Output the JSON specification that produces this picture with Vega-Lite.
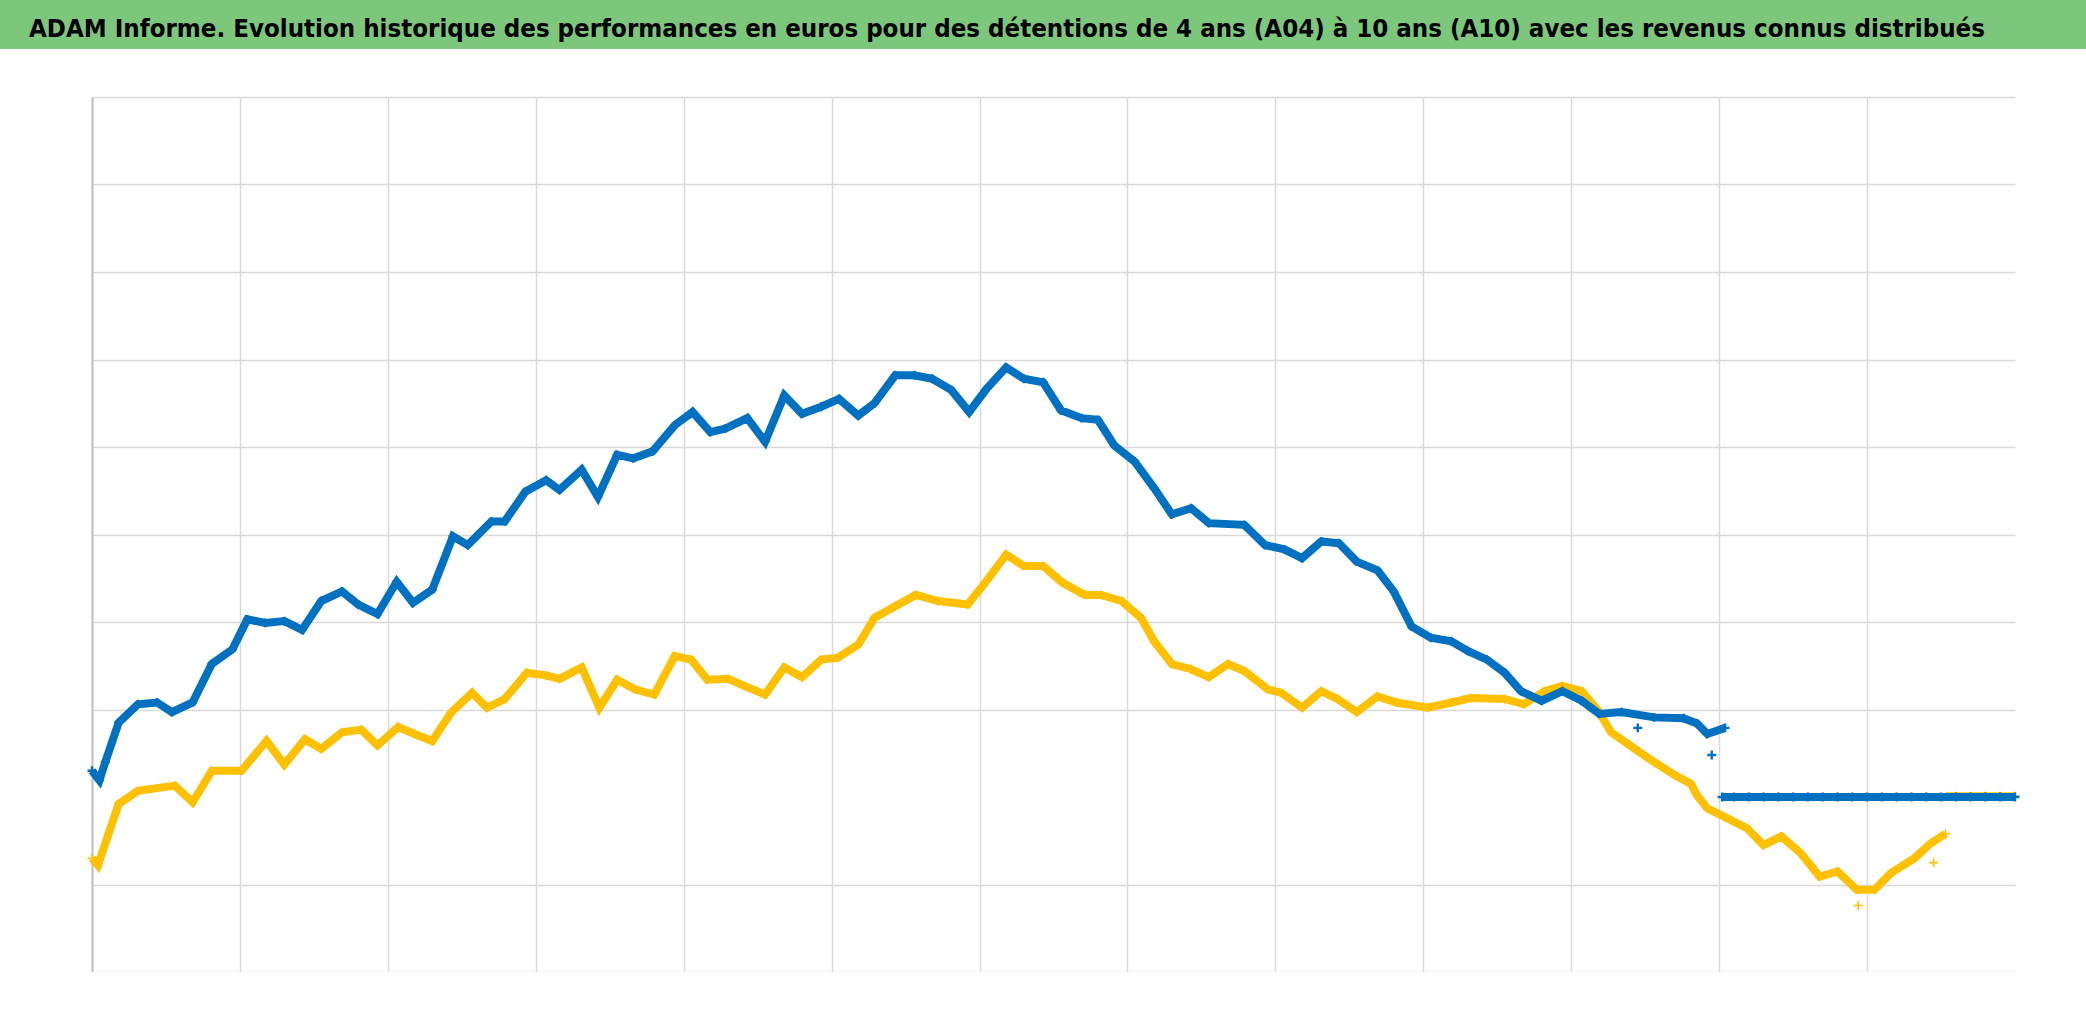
{
  "$schema": "https://vega.github.io/schema/vega-lite/v6.json",
  "padding": 0,
  "spacing": 48,
  "bounds": "flush",
  "background": "white",
  "config": {"view": {"stroke": null}},
  "datasets": {
    "bleu": [
      {"t":0.00,"v":-20,"g":"main"},{"t":0.05,"v":-31,"g":"main"},{"t":0.09,"v":-10,"g":"main"},{"t":0.18,"v":35,"g":"main"},{"t":0.31,"v":56,"g":"main"},{"t":0.44,"v":58,"g":"main"},{"t":0.54,"v":47,"g":"main"},{"t":0.68,"v":58,"g":"main"},{"t":0.81,"v":102,"g":"main"},{"t":0.95,"v":119,"g":"main"},{"t":1.05,"v":153,"g":"main"},{"t":1.17,"v":149,"g":"main"},{"t":1.30,"v":151,"g":"main"},{"t":1.42,"v":141,"g":"main"},{"t":1.55,"v":174,"g":"main"},{"t":1.69,"v":185,"g":"main"},{"t":1.80,"v":170,"g":"main"},{"t":1.93,"v":159,"g":"main"},{"t":2.06,"v":196,"g":"main"},{"t":2.17,"v":172,"g":"main"},{"t":2.30,"v":187,"g":"main"},{"t":2.44,"v":248,"g":"main"},{"t":2.54,"v":238,"g":"main"},{"t":2.70,"v":265,"g":"main"},{"t":2.79,"v":265,"g":"main"},{"t":2.93,"v":299,"g":"main"},{"t":3.07,"v":312,"g":"main"},{"t":3.16,"v":301,"g":"main"},{"t":3.31,"v":324,"g":"main"},{"t":3.42,"v":293,"g":"main"},{"t":3.55,"v":341,"g":"main"},{"t":3.66,"v":337,"g":"main"},{"t":3.79,"v":345,"g":"main"},{"t":3.94,"v":375,"g":"main"},{"t":4.06,"v":390,"g":"main"},{"t":4.18,"v":367,"g":"main"},{"t":4.28,"v":371,"g":"main"},{"t":4.43,"v":383,"g":"main"},{"t":4.55,"v":356,"g":"main"},{"t":4.68,"v":409,"g":"main"},{"t":4.80,"v":388,"g":"main"},{"t":4.93,"v":396,"g":"main"},{"t":5.05,"v":405,"g":"main"},{"t":5.18,"v":386,"g":"main"},{"t":5.29,"v":400,"g":"main"},{"t":5.43,"v":432,"g":"main"},{"t":5.56,"v":432,"g":"main"},{"t":5.68,"v":428,"g":"main"},{"t":5.81,"v":415,"g":"main"},{"t":5.93,"v":390,"g":"main"},{"t":6.05,"v":417,"g":"main"},{"t":6.18,"v":441,"g":"main"},{"t":6.30,"v":428,"g":"main"},{"t":6.43,"v":424,"g":"main"},{"t":6.55,"v":392,"g":"main"},{"t":6.69,"v":383,"g":"main"},{"t":6.80,"v":381,"g":"main"},{"t":6.91,"v":352,"g":"main"},{"t":7.05,"v":333,"g":"main"},{"t":7.18,"v":303,"g":"main"},{"t":7.30,"v":273,"g":"main"},{"t":7.43,"v":280,"g":"main"},{"t":7.55,"v":263,"g":"main"},{"t":7.79,"v":261,"g":"main"},{"t":7.93,"v":238,"g":"main"},{"t":8.06,"v":233,"g":"main"},{"t":8.18,"v":223,"g":"main"},{"t":8.31,"v":242,"g":"main"},{"t":8.43,"v":240,"g":"main"},{"t":8.55,"v":219,"g":"main"},{"t":8.69,"v":209,"g":"main"},{"t":8.80,"v":185,"g":"main"},{"t":8.92,"v":145,"g":"main"},{"t":9.05,"v":132,"g":"main"},{"t":9.19,"v":128,"g":"main"},{"t":9.30,"v":117,"g":"main"},{"t":9.43,"v":107,"g":"main"},{"t":9.55,"v":92,"g":"main"},{"t":9.66,"v":71,"g":"main"},{"t":9.80,"v":60,"g":"main"},{"t":9.94,"v":71,"g":"main"},{"t":10.07,"v":60,"g":"main"},{"t":10.19,"v":45,"g":"main"},{"t":10.34,"v":47,"g":"main"},{"t":10.56,"v":41,"g":"main"},{"t":10.76,"v":40,"g":"main"},{"t":10.85,"v":34,"g":"main"},{"t":10.92,"v":22,"g":"main"},{"t":11.04,"v":29,"g":"main"},
      {"t":10.45,"v":29,"g":"out"},{"t":10.95,"v":-2,"g":"out"},
      {"t":11.02,"v":-50,"g":"flat"},{"t":11.1,"v":-50,"g":"flat"},{"t":11.2,"v":-50,"g":"flat"},{"t":11.3,"v":-50,"g":"flat"},{"t":11.4,"v":-50,"g":"flat"},{"t":11.5,"v":-50,"g":"flat"},{"t":11.6,"v":-50,"g":"flat"},{"t":11.7,"v":-50,"g":"flat"},{"t":11.8,"v":-50,"g":"flat"},{"t":11.9,"v":-50,"g":"flat"},{"t":12.0,"v":-50,"g":"flat"},{"t":12.1,"v":-50,"g":"flat"},{"t":12.2,"v":-50,"g":"flat"},{"t":12.3,"v":-50,"g":"flat"},{"t":12.4,"v":-50,"g":"flat"},{"t":12.5,"v":-50,"g":"flat"},{"t":12.6,"v":-50,"g":"flat"},{"t":12.7,"v":-50,"g":"flat"},{"t":12.8,"v":-50,"g":"flat"},{"t":12.9,"v":-50,"g":"flat"},{"t":13.0,"v":-50,"g":"flat"}
    ],
    "jaune": [
      {"t":0.00,"v":-120,"g":"main"},{"t":0.04,"v":-128,"g":"main"},{"t":0.18,"v":-58,"g":"main"},{"t":0.31,"v":-43,"g":"main"},{"t":0.56,"v":-37,"g":"main"},{"t":0.68,"v":-56,"g":"main"},{"t":0.81,"v":-20,"g":"main"},{"t":1.01,"v":-20,"g":"main"},{"t":1.18,"v":14,"g":"main"},{"t":1.30,"v":-13,"g":"main"},{"t":1.44,"v":16,"g":"main"},{"t":1.55,"v":5,"g":"main"},{"t":1.69,"v":24,"g":"main"},{"t":1.82,"v":27,"g":"main"},{"t":1.93,"v":9,"g":"main"},{"t":2.07,"v":30,"g":"main"},{"t":2.18,"v":22,"g":"main"},{"t":2.30,"v":14,"g":"main"},{"t":2.43,"v":47,"g":"main"},{"t":2.57,"v":69,"g":"main"},{"t":2.67,"v":52,"g":"main"},{"t":2.79,"v":62,"g":"main"},{"t":2.94,"v":92,"g":"main"},{"t":3.07,"v":89,"g":"main"},{"t":3.16,"v":85,"g":"main"},{"t":3.31,"v":98,"g":"main"},{"t":3.43,"v":52,"g":"main"},{"t":3.55,"v":84,"g":"main"},{"t":3.67,"v":73,"g":"main"},{"t":3.80,"v":67,"g":"main"},{"t":3.94,"v":111,"g":"main"},{"t":4.05,"v":107,"g":"main"},{"t":4.16,"v":84,"g":"main"},{"t":4.30,"v":85,"g":"main"},{"t":4.41,"v":77,"g":"main"},{"t":4.55,"v":67,"g":"main"},{"t":4.68,"v":98,"g":"main"},{"t":4.80,"v":87,"g":"main"},{"t":4.93,"v":107,"g":"main"},{"t":5.04,"v":109,"g":"main"},{"t":5.18,"v":124,"g":"main"},{"t":5.29,"v":155,"g":"main"},{"t":5.43,"v":168,"g":"main"},{"t":5.57,"v":181,"g":"main"},{"t":5.72,"v":174,"g":"main"},{"t":5.92,"v":170,"g":"main"},{"t":6.03,"v":193,"g":"main"},{"t":6.18,"v":227,"g":"main"},{"t":6.30,"v":214,"g":"main"},{"t":6.43,"v":214,"g":"main"},{"t":6.56,"v":195,"g":"main"},{"t":6.71,"v":181,"g":"main"},{"t":6.82,"v":181,"g":"main"},{"t":6.96,"v":174,"g":"main"},{"t":7.09,"v":155,"g":"main"},{"t":7.18,"v":128,"g":"main"},{"t":7.30,"v":102,"g":"main"},{"t":7.43,"v":96,"g":"main"},{"t":7.55,"v":87,"g":"main"},{"t":7.68,"v":102,"g":"main"},{"t":7.79,"v":94,"g":"main"},{"t":7.95,"v":73,"g":"main"},{"t":8.04,"v":69,"g":"main"},{"t":8.18,"v":52,"g":"main"},{"t":8.31,"v":71,"g":"main"},{"t":8.42,"v":62,"g":"main"},{"t":8.55,"v":47,"g":"main"},{"t":8.69,"v":65,"g":"main"},{"t":8.82,"v":58,"g":"main"},{"t":9.03,"v":52,"g":"main"},{"t":9.19,"v":58,"g":"main"},{"t":9.32,"v":63,"g":"main"},{"t":9.55,"v":62,"g":"main"},{"t":9.68,"v":56,"g":"main"},{"t":9.82,"v":71,"g":"main"},{"t":9.94,"v":77,"g":"main"},{"t":10.07,"v":71,"g":"main"},{"t":10.18,"v":49,"g":"main"},{"t":10.27,"v":24,"g":"main"},{"t":10.43,"v":5,"g":"main"},{"t":10.56,"v":-10,"g":"main"},{"t":10.70,"v":-25,"g":"main"},{"t":10.81,"v":-35,"g":"main"},{"t":10.85,"v":-48,"g":"main"},{"t":10.92,"v":-63,"g":"main"},{"t":11.04,"v":-73,"g":"main"},{"t":11.19,"v":-86,"g":"main"},{"t":11.30,"v":-105,"g":"main"},{"t":11.42,"v":-95,"g":"main"},{"t":11.55,"v":-114,"g":"main"},{"t":11.68,"v":-141,"g":"main"},{"t":11.80,"v":-135,"g":"main"},{"t":11.93,"v":-156,"g":"main"},{"t":12.05,"v":-156,"g":"main"},{"t":12.16,"v":-137,"g":"main"},{"t":12.32,"v":-120,"g":"main"},{"t":12.43,"v":-103,"g":"main"},{"t":12.53,"v":-92,"g":"main"},
      {"t":11.94,"v":-174,"g":"out"},{"t":12.45,"v":-125,"g":"out"},
      {"t":12.54,"v":-49,"g":"flat"},{"t":12.6,"v":-49,"g":"flat"},{"t":12.7,"v":-49,"g":"flat"},{"t":12.8,"v":-49,"g":"flat"},{"t":12.9,"v":-49,"g":"flat"},{"t":13.0,"v":-49,"g":"flat"}
    ]
  },
  "vconcat": [
    {
      "width": 2086,
      "height": 49,
      "view": {"fill": "#7DC77D", "stroke": null},
      "data": {"values": [{"titre": "ADAM Informe. Evolution historique des performances en euros pour des détentions de 4 ans (A04) à 10 ans (A10) avec les revenus connus distribués"}]},
      "mark": {"type": "text", "font": "DejaVu Sans Condensed", "fontWeight": "bold", "fontSize": 25.6, "color": "black", "align": "center", "baseline": "alphabetic", "dx": -36, "dy": 12},
      "encoding": {"text": {"field": "titre"}}
    },
    {
      "spacing": 0,
      "bounds": "flush",
      "hconcat": [
        {
          "width": 92,
          "height": 875,
          "data": {"values": [{}]},
          "mark": {"type": "rect", "opacity": 0},
          "encoding": {}
        },
        {
          "width": 1923,
          "height": 875,
          "encoding": {
            "x": {"field": "t", "type": "quantitative", "scale": {"domain": [0, 13], "nice": false, "zero": false},
                  "axis": {"values": [0,1,2,3,4,5,6,7,8,9,10,11,12], "labels": false, "ticks": false, "domain": false, "title": null, "grid": true, "gridColor": "#D9D9D9", "gridWidth": 1.5}},
            "y": {"field": "v", "type": "quantitative", "scale": {"domain": [-250, 750], "nice": false, "zero": false},
                  "axis": {"values": [-250,-150,50,150,250,350,450,550,650,750], "labels": false, "ticks": false, "domain": true, "domainColor": "#BFBFBF", "domainWidth": 2, "title": null, "grid": true, "gridColor": "#D9D9D9", "gridWidth": 1.5}}
          },
          "layer": [
            {
              "data": {"values": [{"z": 0}]},
              "mark": {"type": "rule", "color": "#BFBFBF", "strokeWidth": 2},
              "encoding": {"y": {"field": "z", "type": "quantitative"}}
            },
            {
              "data": {"name": "jaune"},
              "transform": [{"filter": "datum.g != 'out'"}],
              "mark": {"type": "line", "color": "#FFC000", "strokeWidth": 8, "clip": false},
              "encoding": {"detail": {"field": "g"}, "order": {"field": "t"}}
            },
            {
              "data": {"name": "jaune"},
              "mark": {"type": "point", "shape": "M-1,0H1M0,-1V1", "filled": false, "color": "#FFC000", "strokeWidth": 1.6, "size": 80, "opacity": 1, "clip": false}
            },
            {
              "data": {"name": "bleu"},
              "transform": [{"filter": "datum.g != 'out'"}],
              "mark": {"type": "line", "color": "#0070C0", "strokeWidth": 8, "clip": false},
              "encoding": {"detail": {"field": "g"}, "order": {"field": "t"}}
            },
            {
              "data": {"name": "bleu"},
              "mark": {"type": "point", "shape": "M-1,0H1M0,-1V1", "filled": false, "color": "#0070C0", "strokeWidth": 2.4, "size": 80, "opacity": 1, "clip": false}
            }
          ]
        }
      ]
    }
  ]
}
